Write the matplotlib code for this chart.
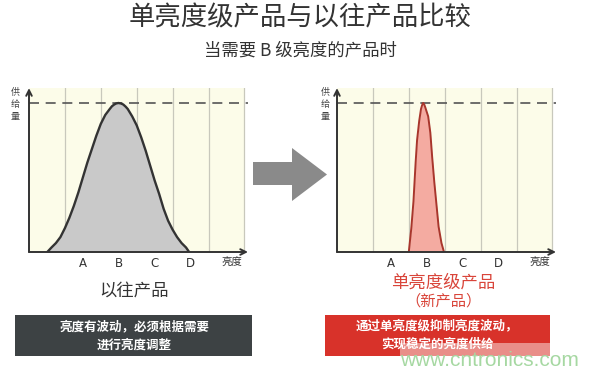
import numpy as np
import matplotlib
matplotlib.use('Agg')
import matplotlib.pyplot as plt
from matplotlib.patches import Rectangle, Polygon

plt.rcParams['font.family'] = ['Noto Sans CJK SC', 'DejaVu Sans']

# --- datos ---
grados = ['A', 'B', 'C', 'D']
pos_grados = [1.5, 2.5, 3.5, 4.5]
rejilla = [1, 2, 3, 4, 5, 6]

# producto anterior (curva ancha)
x_viejo = [0.51, 0.625, 0.75, 0.875, 1.0, 1.125, 1.25, 1.375, 1.5, 1.625, 1.75,
           1.875, 2.0, 2.125, 2.25, 2.31, 2.375, 2.43, 2.49, 2.56, 2.625, 2.69,
           2.75, 2.875, 3.0, 3.125, 3.25, 3.375, 3.5, 3.625, 3.75, 3.875, 4.0,
           4.125, 4.25, 4.375, 4.46]
y_viejo = [0.0, 0.03, 0.06, 0.10, 0.16, 0.23, 0.31, 0.40, 0.50, 0.60, 0.69,
           0.78, 0.86, 0.92, 0.96, 0.978, 0.99, 0.997, 1.0, 0.997, 0.99, 0.976,
           0.96, 0.91, 0.85, 0.77, 0.68, 0.58, 0.48, 0.39, 0.29, 0.21, 0.15,
           0.10, 0.06, 0.03, 0.0]

# producto nuevo (curva estrecha)
x_nuevo = [2.0, 2.07, 2.13, 2.19, 2.23, 2.29, 2.34, 2.37, 2.40, 2.43, 2.46,
           2.54, 2.60, 2.65, 2.71, 2.77, 2.83, 2.91, 2.98]
y_nuevo = [0.0, 0.16, 0.34, 0.60, 0.75, 0.88, 0.96, 0.985, 1.0, 0.99, 0.97,
           0.91, 0.80, 0.64, 0.47, 0.32, 0.17, 0.06, 0.0]

titulo = '单亮度级产品与以往产品比较'
subtitulo = '当需要 B 级亮度的产品时'
texto_izq = '亮度有波动，必须根据需要\n进行亮度调整'
texto_der = '通过单亮度级抑制亮度波动，\n实现稳定的亮度供给'

W, H = 600, 372
fig = plt.figure(figsize=(6, 3.72), dpi=100)

# capa de fondo en pixeles
bg = fig.add_axes([0, 0, 1, 1], zorder=0)
bg.set_xlim(0, W)
bg.set_ylim(H, 0)
bg.axis('off')

XMAX, YMAX = 6.1, 1.1
SX, SY = 35.9, 149


def grafica(ox, oy, xs, ys, relleno, borde, lw):
    ax = fig.add_axes([ox / W, 1 - oy / H, XMAX * SX / W, YMAX * SY / H], zorder=1)
    ax.set_xlim(0, XMAX)
    ax.set_ylim(0, YMAX)
    ax.patch.set_alpha(0)
    ax.axis('off')
    ax.axvspan(0, 6, 0, 1, color='#fcfce9', zorder=0, lw=0)
    for g in rejilla:
        ax.axvline(g, color='#c8c8bc', lw=0.9, zorder=1)
    ax.axhline(1, color='#555555', lw=1.2, ls=(0, (6, 4)), zorder=2)
    ax.fill_between(xs, ys, color=relleno, zorder=3, lw=0)
    ax.plot(xs, ys, color=borde, lw=lw, zorder=4, solid_capstyle='round',
            solid_joinstyle='round')
    ax.annotate('', xy=(XMAX, 0), xytext=(0, 0), annotation_clip=False,
                arrowprops=dict(arrowstyle='->', lw=1.4, color='#333333',
                                shrinkA=0, shrinkB=0), zorder=5)
    ax.annotate('', xy=(0, YMAX), xytext=(0, 0), annotation_clip=False,
                arrowprops=dict(arrowstyle='->', lw=1.4, color='#333333',
                                shrinkA=0, shrinkB=0), zorder=5)
    for p, g in zip(pos_grados, grados):
        ax.text(p, -0.075, g, ha='center', va='center', fontsize=8.5,
                color='#333333', family='DejaVu Sans')
    ax.text(5.65, -0.075, '亮度', ha='center', va='center', fontsize=7.5, color='#333333')
    return ax


grafica(29, 252, x_viejo, y_viejo, '#c9c9c9', '#333333', 1.7)
grafica(337, 252, x_nuevo, y_nuevo, '#f4aba1', '#a8362c', 1.4)

# etiquetas verticales del eje y
for xx in (15, 325):
    for yy, ch in zip((92, 104, 116), '供给量'):
        bg.text(xx, yy, ch, ha='center', va='center', fontsize=6.5, color='#444444')

# titulos
bg.text(W / 2, 18, titulo, ha='center', va='center', fontsize=19, color='#333333',
        fontweight='medium')
bg.text(W / 2, 51, subtitulo, ha='center', va='center', fontsize=12.5, color='#333333',
        fontweight='medium')

# nombres de los productos
bg.text(134, 291, '以往产品', ha='center', va='center', fontsize=12.5, color='#333333')
bg.text(443, 283, '单亮度级产品', ha='center', va='center', fontsize=12.5, color='#d9453a',
        fontweight='medium')
bg.text(443, 301, '（新产品）', ha='center', va='center', fontsize=11, color='#d9453a')

# flecha gris
bg.add_patch(Polygon([(253, 162), (292, 162), (292, 148), (327, 174.5), (292, 201),
                      (292, 185), (253, 185)], closed=True, color='#8a8a8a', lw=0))

# cajas
bg.add_patch(Rectangle((15, 315), 237, 41, color='#3d4244', lw=0))
bg.text(134, 336, texto_izq, ha='center', va='center', fontsize=9, color='white',
        linespacing=1.5, fontweight='bold')
bg.add_patch(Rectangle((325, 315), 225, 41, color='#d8322a', lw=0))
bg.text(437, 335, texto_der, ha='center', va='center', fontsize=9, color='white',
        linespacing=1.5, fontweight='bold')

# marca de agua
bg.add_patch(Rectangle((400, 343), 185, 29, color='white', alpha=0.45, lw=0))
bg.text(489, 361, 'www.cntronics.com', ha='center', va='center', fontsize=15,
        color='#a6d8a2', family='Liberation Sans')

plt.savefig('out.png', dpi=100)
